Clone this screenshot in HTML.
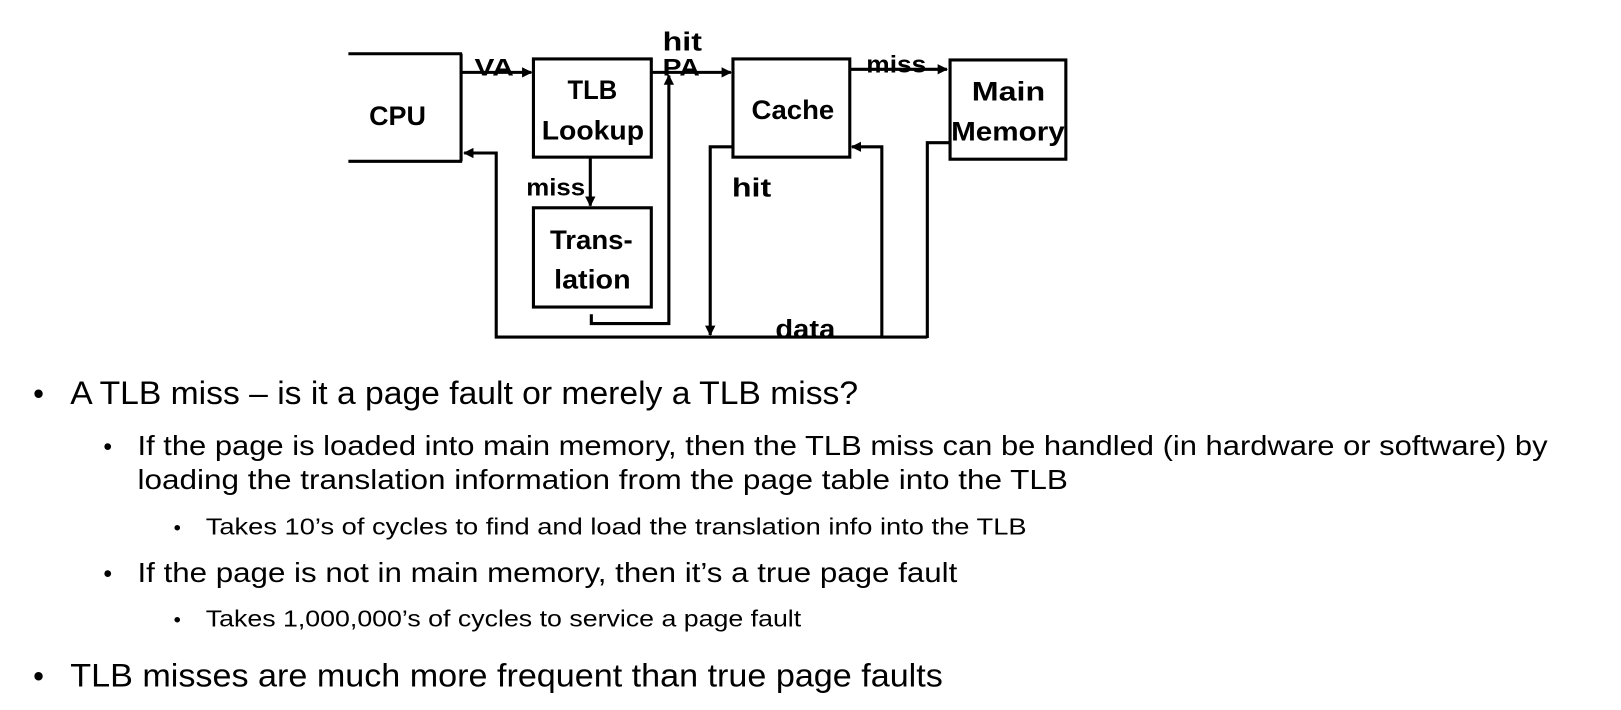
<!DOCTYPE html>
<html><head><meta charset="utf-8"><style>
html,body{margin:0;padding:0;background:#fff;}
svg{display:block;}
text{font-family:"Liberation Sans",sans-serif;fill:#000;}
.b{font-weight:bold;}
</style></head><body>
<svg width="1621" height="710" viewBox="0 0 1621 710" xmlns="http://www.w3.org/2000/svg">
<defs><marker id="a" markerWidth="10" markerHeight="10" refX="9" refY="5" orient="auto" markerUnits="userSpaceOnUse"><path d="M0,0 L10,5 L0,10 z" fill="#000"/></marker></defs>
<g transform="scale(1.0338)">
<g stroke="#000" stroke-width="3" fill="none">
<line x1="337" y1="52" x2="447" y2="52"/>
<line x1="337" y1="156" x2="447" y2="156"/>
<line x1="446" y1="52" x2="446" y2="156"/>
<rect x="516" y="57" width="114" height="95"/>
<rect x="709" y="57" width="113" height="95"/>
<rect x="919" y="58" width="112" height="96"/>
<rect x="516" y="201" width="114" height="96"/>
<line x1="446" y1="70" x2="514" y2="70" marker-end="url(#a)"/>
<line x1="630" y1="70" x2="707" y2="70" marker-end="url(#a)"/>
<line x1="822" y1="67" x2="916" y2="67" marker-end="url(#a)"/>
<line x1="571" y1="152" x2="571" y2="199" marker-end="url(#a)"/>
<polyline points="572,304 572,313 647,313 647,73" marker-end="url(#a)"/>
<polyline points="897,326 480,326 480,148 449,148" marker-end="url(#a)"/>
<polyline points="709,142 687,142 687,324" marker-end="url(#a)"/>
<polyline points="853,326 853,142 824,142" marker-end="url(#a)"/>
<polyline points="919,138 897,138 897,327"/>
</g>
<g lengthAdjust="spacingAndGlyphs">
<text class="b" x="357" y="121" font-size="26" textLength="55" lengthAdjust="spacingAndGlyphs">CPU</text>
<text class="b" x="459" y="73" font-size="23" textLength="38" lengthAdjust="spacingAndGlyphs">VA</text>
<text class="b" x="549" y="96" font-size="26" textLength="48" lengthAdjust="spacingAndGlyphs">TLB</text>
<text class="b" x="524" y="135" font-size="26" textLength="99" lengthAdjust="spacingAndGlyphs">Lookup</text>
<text class="b" x="641" y="49" font-size="25" textLength="38" lengthAdjust="spacingAndGlyphs">hit</text>
<text class="b" x="641" y="73" font-size="23" textLength="36" lengthAdjust="spacingAndGlyphs">PA</text>
<text class="b" x="727" y="115" font-size="26" textLength="80" lengthAdjust="spacingAndGlyphs">Cache</text>
<text class="b" x="838" y="70" font-size="23" textLength="58" lengthAdjust="spacingAndGlyphs">miss</text>
<text class="b" x="940" y="97" font-size="26" textLength="71" lengthAdjust="spacingAndGlyphs">Main</text>
<text class="b" x="920" y="136" font-size="26" textLength="110" lengthAdjust="spacingAndGlyphs">Memory</text>
<text class="b" x="509" y="189" font-size="23" textLength="57" lengthAdjust="spacingAndGlyphs">miss</text>
<text class="b" x="708" y="190" font-size="25" textLength="38" lengthAdjust="spacingAndGlyphs">hit</text>
<text class="b" x="532" y="241" font-size="26" textLength="80" lengthAdjust="spacingAndGlyphs">Trans-</text>
<text class="b" x="536" y="279" font-size="26" textLength="74" lengthAdjust="spacingAndGlyphs">lation</text>
<text class="b" x="750" y="327" font-size="25" textLength="58" lengthAdjust="spacingAndGlyphs">data</text>
<text x="32" y="391" font-size="30">•</text>
<text x="68" y="391" font-size="31" textLength="762" lengthAdjust="spacingAndGlyphs">A TLB miss – is it a page fault or merely a TLB miss?</text>
<text x="100" y="440" font-size="24">•</text>
<text x="133" y="440" font-size="27" textLength="1364" lengthAdjust="spacingAndGlyphs">If the page is loaded into main memory, then the TLB miss can be handled (in hardware or software) by</text>
<text x="133" y="473" font-size="27" textLength="900" lengthAdjust="spacingAndGlyphs">loading the translation information from the page table into the TLB</text>
<text x="168" y="517" font-size="20">•</text>
<text x="199" y="517" font-size="22" textLength="794" lengthAdjust="spacingAndGlyphs">Takes 10’s of cycles to find and load the translation info into the TLB</text>
<text x="100" y="563" font-size="24">•</text>
<text x="133" y="563" font-size="27" textLength="793" lengthAdjust="spacingAndGlyphs">If the page is not in main memory, then it’s a true page fault</text>
<text x="168" y="606" font-size="20">•</text>
<text x="199" y="606" font-size="22" textLength="576" lengthAdjust="spacingAndGlyphs">Takes 1,000,000’s of cycles to service a page fault</text>
<text x="32" y="664" font-size="30">•</text>
<text x="68" y="664" font-size="31" textLength="844" lengthAdjust="spacingAndGlyphs">TLB misses are much more frequent than true page faults</text>
</g>
</g>
</svg>
</body></html>
